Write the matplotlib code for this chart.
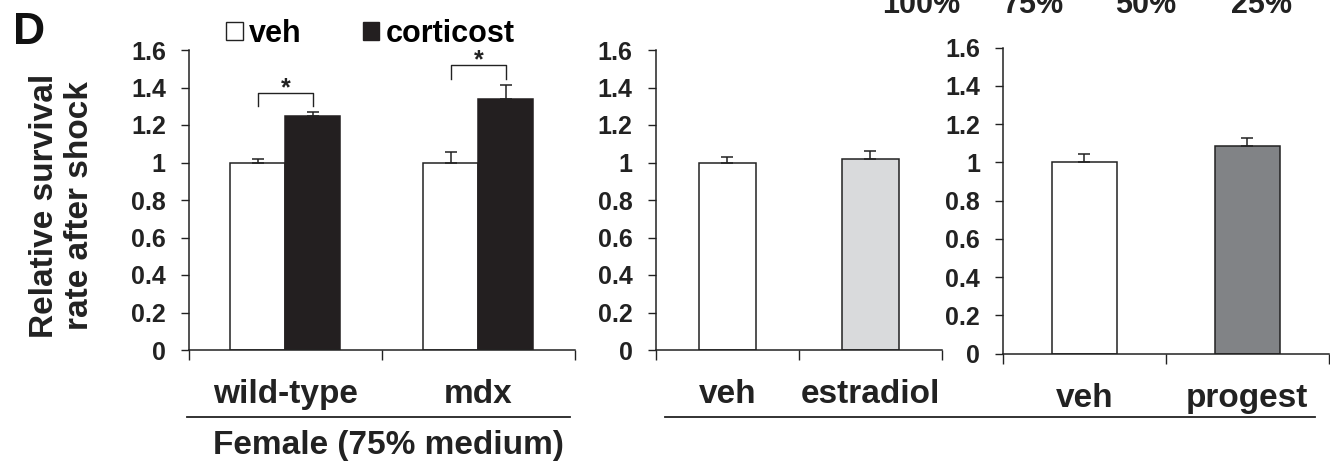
import matplotlib
matplotlib.use("Agg")
import matplotlib.pyplot as plt
from matplotlib.patches import Patch
from matplotlib.lines import Line2D

plt.rcParams['font.family'] = ['Liberation Sans', 'DejaVu Sans']
plt.rcParams['font.weight'] = 'bold'

# ---- data ----
p1_groups = ["wild-type", "mdx"]
p1_veh = [1.0, 1.0]
p1_veh_err = [0.02, 0.058]
p1_cort = [1.25, 1.34]
p1_cort_err = [0.022, 0.075]
p1_sig_top = [1.372, 1.518]

p2_labels = ["veh", "estradiol"]
p2_vals = [1.0, 1.02]
p2_err = [0.03, 0.04]

p3_labels = ["veh", "progest"]
p3_vals = [1.0, 1.085]
p3_err = [0.046, 0.042]

yticks = [0, 0.2, 0.4, 0.6, 0.8, 1.0, 1.2, 1.4, 1.6]
ytick_labels = ["0", "0.2", "0.4", "0.6", "0.8", "1", "1.2", "1.4", "1.6"]
top_labels = ["100%", "75%", "50%", "25%"]

W, H = 1330, 476
fig = plt.figure(figsize=(W / 100, H / 100), dpi=100)
INK = '#222222'

def fx(px):
    return px / W

def fy(py):
    return 1 - py / H

def make_ax(left, right, top, bottom):
    ax = fig.add_axes([fx(left), fy(bottom), fx(right) - fx(left), fy(top) - fy(bottom)])
    ax.set_ylim(0, 1.6)
    ax.set_xlim(0, 2)
    ax.spines['top'].set_visible(False)
    ax.spines['right'].set_visible(False)
    for s in ('left', 'bottom'):
        ax.spines[s].set_linewidth(1.1)
        ax.spines[s].set_color(INK)
    ax.set_yticks(yticks)
    ax.set_yticklabels(ytick_labels)
    ax.tick_params(axis='y', direction='out', length=5.5, width=1.0, pad=11,
                   labelsize=18, colors=INK)
    ax.set_xticks([0, 1, 2])
    ax.set_xticklabels([])
    ax.tick_params(axis='x', which='major', direction='out', length=7, width=1.0, colors=INK)
    ax.set_xticks([0.5, 1.5], minor=True)
    ax.tick_params(axis='x', which='minor', length=0, pad=21, labelsize=24, labelcolor=INK)
    for lab in ax.get_yticklabels() + ax.get_xticklabels(minor=True):
        lab.set_fontweight('bold')
    return ax

err_kw = dict(elinewidth=1.1, capsize=4, capthick=1.1, ecolor=INK)

# ---- panel 1 ----
ax1 = make_ax(188.7, 575, 50, 350)
bw1 = 0.285
cx = [0.5, 1.5]
xv = [c - bw1 / 2 for c in cx]
xc = [c + bw1 / 2 for c in cx]
ax1.bar(xv, p1_veh, bw1, color='white', edgecolor=INK, linewidth=1.1,
        yerr=[[0, 0], p1_veh_err], error_kw=err_kw, zorder=2)
ax1.bar(xc, p1_cort, bw1, color='#231f20', edgecolor='#231f20', linewidth=1.1,
        yerr=[[0, 0], p1_cort_err], error_kw=err_kw, zorder=2)
ax1.set_xticklabels(p1_groups, minor=True)
for a, b, top in zip(xv, xc, p1_sig_top):
    ax1.plot([a, a, b, b], [top - 0.071, top, top, top - 0.071], color=INK, lw=1.0,
             clip_on=False)
    ax1.text((a + b) / 2, top + 0.025, '*', ha='center', va='center', fontsize=18,
             fontweight='bold', color=INK)

# ---- panel 2 ----
ax2 = make_ax(655.6, 942, 50, 350)
bw = 0.4
ax2.bar(cx, p2_vals, bw, color=['white', '#d9dadc'], edgecolor=INK, linewidth=1.1,
        yerr=[[0, 0], p2_err], error_kw=err_kw, zorder=2)
ax2.set_xticklabels(p2_labels, minor=True)

# ---- panel 3 ----
ax3 = make_ax(1003, 1328.5, 47.7, 353.7)
ax3.bar(cx, p3_vals, bw, color=['white', '#818386'], edgecolor=INK, linewidth=1.1,
        yerr=[[0, 0], p3_err], error_kw=err_kw, zorder=2)
ax3.set_xticklabels(p3_labels, minor=True)

# ---- decorations ----
fig.add_artist(Line2D([fx(187), fx(570)], [fy(417), fy(417)], color=INK, lw=1.3))
fig.add_artist(Line2D([fx(665), fx(1315)], [fy(417), fy(417)], color=INK, lw=1.3))
fig.text(fx(388), fy(454), 'Female (75% medium)', ha='center', va='baseline', fontsize=24,
         fontweight='bold', color=INK)

for lab, x in zip(top_labels, [921, 1033, 1146, 1261]):
    fig.text(fx(x), fy(13), lab, ha='center', va='baseline', fontsize=22,
             fontweight='bold', color=INK)

fig.text(fx(13), fy(12), 'D', ha='left', va='top', fontsize=32, fontweight='bold', color='#111111')
fig.text(fx(62), fy(206), 'Relative survival\nrate after shock', rotation=90, ha='center',
         va='center', multialignment='center', fontsize=24, fontweight='bold',
         color=INK, linespacing=1.15)

handles = [Patch(facecolor='white', edgecolor=INK, linewidth=1.0),
           Patch(facecolor='#231f20', edgecolor='#231f20')]
fig.legend(handles, ['veh', 'corticost'], loc='center left',
           bbox_to_anchor=(fx(226), fy(34)), ncol=2, frameon=False,
           prop={'weight': 'bold', 'size': 22},
           handlelength=0.55, handleheight=0.55, handletextpad=0.2,
           columnspacing=2.0, borderpad=0, borderaxespad=0)

fig.savefig('out.png', dpi=100)
